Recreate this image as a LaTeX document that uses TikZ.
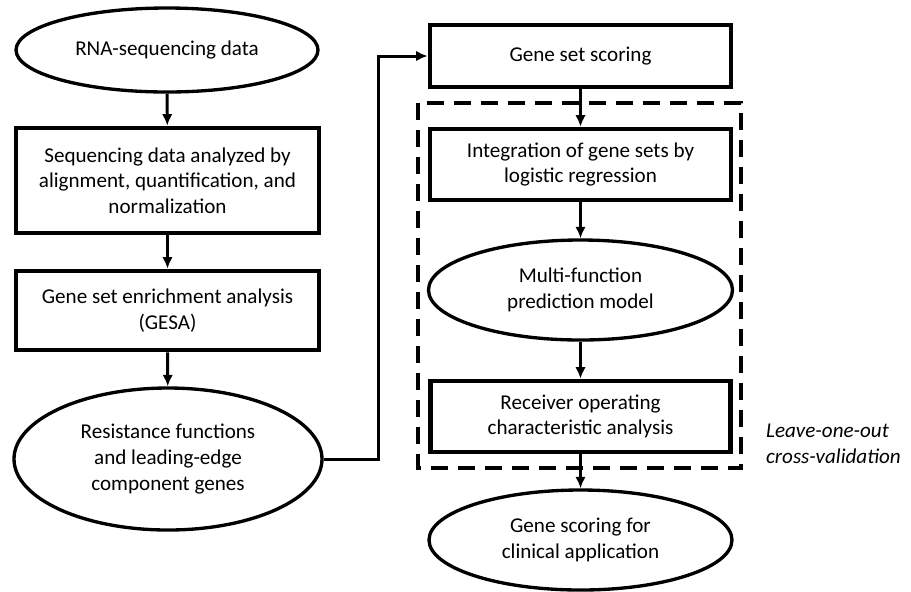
\documentclass[tikz,border=0pt]{standalone}
\usepackage{fontspec}
\setmainfont{Carlito}
\usetikzlibrary{shapes.geometric,arrows.meta}

\begin{document}
\begin{tikzpicture}[
    font=\fontsize{12}{14.6}\selectfont,
    box/.style={draw, line width=2.7pt, rectangle, align=center, inner sep=0pt},
    oval/.style={draw, line width=1.9pt, ellipse, align=center, inner sep=0pt},
    flow/.style={line width=1.7pt, -{Latex[length=2.3mm,width=2.1mm]}}
]
    \useasboundingbox (0,0) rectangle (18.22,-11.82);

    % left column
    \node[oval, minimum width=6.04cm, minimum height=1.68cm] (rna) at (3.34,-1.00) {RNA-sequencing data};
    \node[box, minimum width=6.06cm, minimum height=2.10cm] (seq) at (3.35,-3.61) {Sequencing data analyzed by\\alignment, quantification, and\\normalization};
    \node[box, minimum width=6.06cm, minimum height=1.58cm] (gsea) at (3.35,-6.21) {Gene set enrichment analysis\\(GESA)};
    \node[oval, minimum width=6.16cm, minimum height=2.84cm] (res) at (3.36,-9.18) {Resistance functions\\and leading-edge\\component genes};

    % right column
    \node[box, minimum width=6.02cm, minimum height=1.24cm] (score) at (11.61,-1.12) {Gene set scoring};
    \node[box, minimum width=6.02cm, minimum height=1.42cm] (integ) at (11.61,-3.29) {Integration of gene sets by\\logistic regression};
    \node[oval, minimum width=6.08cm, minimum height=2.00cm] (multi) at (11.61,-5.80) {Multi-function\\prediction model};
    \node[box, minimum width=6.00cm, minimum height=1.42cm] (roc) at (11.61,-8.33) {Receiver operating\\characteristic analysis};
    \node[oval, minimum width=6.06cm, minimum height=2.00cm] (clin) at (11.61,-10.80) {Gene scoring for\\clinical application};

    \draw[line width=2.4pt, dash pattern=on 0.34cm off 0.2cm] (8.36,-2.06) rectangle (14.82,-9.36); % cross-validation loop
    \node[anchor=west, align=left, font=\fontsize{12}{14.6}\selectfont\itshape] (loo) at (15.20,-8.88) {Leave-one-out\\cross-validation};

    \draw[flow] (rna) -- (seq);
    \draw[flow] (seq) -- (gsea);
    \draw[flow] (gsea) -- (res);
    \draw[flow] (res.east) -- ++(1.1,0) |- (score.west);
    \draw[flow] (score) -- (integ);
    \draw[flow] (integ) -- (multi);
    \draw[flow] (multi) -- (roc);
    \draw[flow] (roc) -- (clin);
\end{tikzpicture}
\end{document}
